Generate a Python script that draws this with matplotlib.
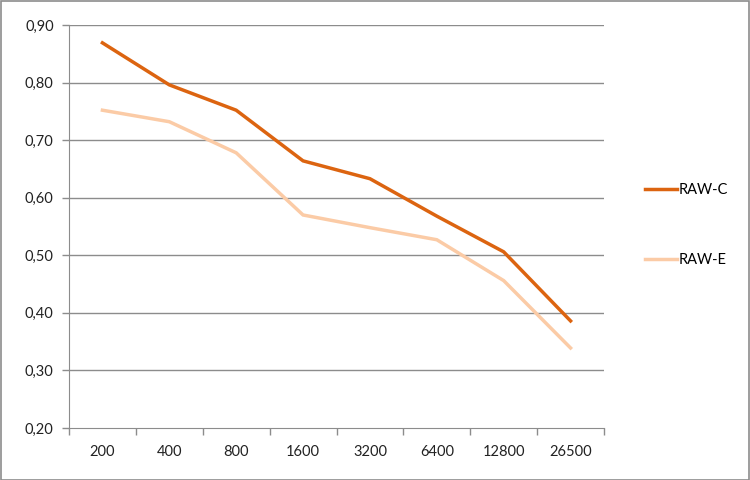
import matplotlib
matplotlib.use("Agg")
import matplotlib.pyplot as plt
from matplotlib.ticker import FixedLocator, NullFormatter
from matplotlib.patches import Rectangle

categories = ["200", "400", "800", "1600", "3200", "6400", "12800", "26500"]
raw_c = [0.869, 0.796, 0.752, 0.664, 0.633, 0.568, 0.506, 0.386]
raw_e = [0.752, 0.732, 0.678, 0.570, 0.548, 0.527, 0.456, 0.339]
series_names = ["RAW-C", "RAW-E"]
yticks = [0.20, 0.30, 0.40, 0.50, 0.60, 0.70, 0.80, 0.90]

plt.rcParams['font.family'] = ['Lato', 'DejaVu Sans']

fig = plt.figure(figsize=(7.5, 4.8), dpi=100)
ax = fig.add_axes([69/750, 52/480, (604-69)/750, (428-25)/480])

x = list(range(len(categories)))
grid_c = "#8c8c8c"
ax.set_ylim(0.20, 0.90)
ax.set_xlim(-0.5, len(categories) - 0.5)
ax.set_yticks(yticks)
ax.set_yticklabels([f"{v:.2f}".replace(".", ",") for v in yticks], fontsize=10.5, color="#222222")
for v in yticks[1:]:
    ax.axhline(v, color=grid_c, lw=1.0, zorder=1)

l1, = ax.plot(x, raw_c, color="#DC6410", lw=2.5, zorder=3, solid_joinstyle="miter")
l2, = ax.plot(x, raw_e, color="#FBCBA6", lw=2.5, zorder=2, solid_joinstyle="miter")

ax.set_xticks(x)
ax.set_xticklabels(categories, fontsize=10.5, color="#222222")
ax.tick_params(axis="x", which="major", length=0, pad=12)
ax.xaxis.set_minor_locator(FixedLocator([i - 0.5 for i in range(len(categories) + 1)]))
ax.xaxis.set_minor_formatter(NullFormatter())
ax.tick_params(axis="x", which="minor", length=5, color=grid_c, width=1)
ax.tick_params(axis="y", length=5, color=grid_c, width=1, pad=6)

for s in ["top", "right"]:
    ax.spines[s].set_visible(False)
ax.spines["left"].set_color(grid_c)
ax.spines["bottom"].set_color(grid_c)

leg = fig.legend([l1, l2], series_names, loc="center left",
                 bbox_to_anchor=(632/750, 1 - 225/480), frameon=False,
                 fontsize=10.5, handlelength=2.2, handletextpad=0.1,
                 labelspacing=3.85)

fig.add_artist(Rectangle((0.5/750, 0.5/480), 748.5/750, 478.5/480, transform=fig.transFigure,
                         fill=False, edgecolor="#8c8c8c", lw=1.2))

fig.savefig("out.png", dpi=100)
